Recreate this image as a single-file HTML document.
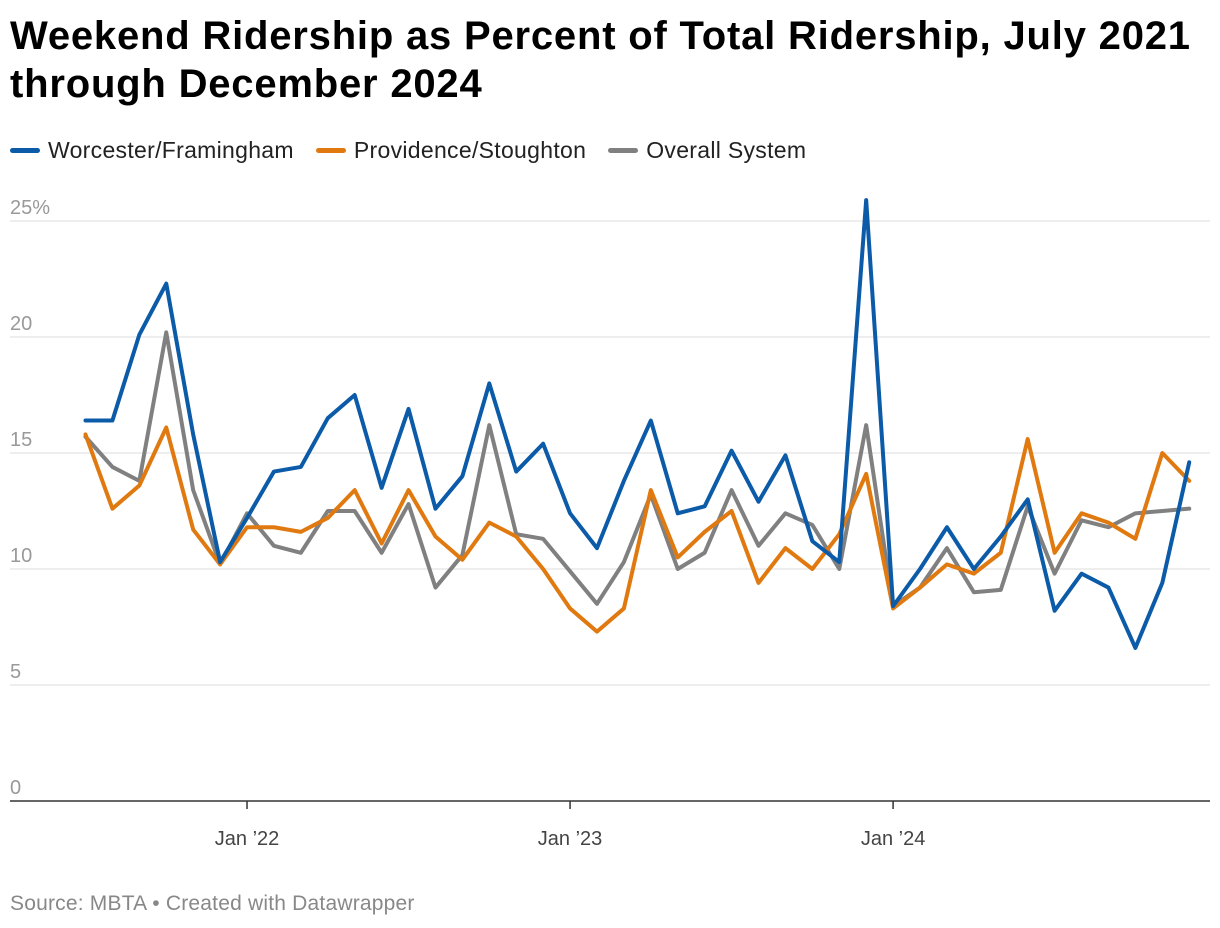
<!DOCTYPE html>
<html><head><meta charset="utf-8"><style>
body{margin:0;width:1220px;height:928px;background:#fff;font-family:"Liberation Sans",sans-serif;overflow:hidden}
h1{position:absolute;left:10px;top:12px;margin:0;font-size:40px;line-height:48px;font-weight:bold;color:#000;width:1210px;white-space:nowrap;letter-spacing:0.8px}
.legend{position:absolute;left:10px;top:137px;font-size:23px;letter-spacing:0.3px;color:#222;display:flex;gap:22px}
.legend span{display:flex;align-items:center}
.legend i{display:inline-block;width:30px;height:5px;border-radius:3px;margin-right:8px}
.src{position:absolute;left:10px;top:892px;font-size:21px;letter-spacing:0.2px;color:#888}
</style></head><body>
<h1>Weekend Ridership as Percent of Total Ridership, July 2021<br>through December 2024</h1>
<div class="legend">
<span><i style="background:#0b5ba8"></i>Worcester/Framingham</span>
<span><i style="background:#e07a10"></i>Providence/Stoughton</span>
<span><i style="background:#808080"></i>Overall System</span>
</div>
<svg id="chart" width="1220" height="928" style="position:absolute;left:0;top:0"></svg>
<div class="src">Source: MBTA • Created with Datawrapper</div>
<script>
const yTicks=[0,5,10,15,20,25];
const yTickLabels=["0","5","10","15","20","25%"];
const xTickIdx=[6,18,30];
const xTickLabels=["Jan ’22","Jan ’23","Jan ’24"];
const worcester=[16.4,16.4,20.1,22.3,15.8,10.3,12.2,14.2,14.4,16.5,17.5,13.5,16.9,12.6,14.0,18.0,14.2,15.4,12.4,10.9,13.8,16.4,12.4,12.7,15.1,12.9,14.9,11.2,10.3,25.9,8.4,10.0,11.8,10.0,11.4,13.0,8.2,9.8,9.2,6.6,9.4,14.6];
const providence=[15.8,12.6,13.6,16.1,11.7,10.2,11.8,11.8,11.6,12.2,13.4,11.1,13.4,11.4,10.4,12.0,11.4,10.0,8.3,7.3,8.3,13.4,10.5,11.6,12.5,9.4,10.9,10.0,11.5,14.1,8.3,9.2,10.2,9.8,10.7,15.6,10.7,12.4,12.0,11.3,15.0,13.8];
const overall=[15.7,14.4,13.8,20.2,13.4,10.2,12.4,11.0,10.7,12.5,12.5,10.7,12.8,9.2,10.6,16.2,11.5,11.3,9.9,8.5,10.3,13.2,10.0,10.7,13.4,11.0,12.4,11.9,10.0,16.2,8.4,9.2,10.9,9.0,9.1,12.7,9.8,12.1,11.8,12.4,12.5,12.6];
const NS="http://www.w3.org/2000/svg";
const svg=document.getElementById('chart');
const x=i=>85.5+i*26.92;
const y=v=>801-v*23.2;
function mk(t,a){const e=document.createElementNS(NS,t);for(const k in a)e.setAttribute(k,a[k]);svg.appendChild(e);return e;}
yTicks.forEach((v,k)=>{
 if(v>0){const g=mk('line',{x1:10,x2:1210,y1:y(v),y2:y(v),stroke:'#ddd','stroke-width':1});
 
 }
 const t=mk('text',{x:10,y:y(v)-7,fill:'#999','font-size':20,'font-family':'Liberation Sans, sans-serif'});
 t.textContent=yTickLabels[k];
 
 
});
const ax=mk('line',{x1:10,x2:1210,y1:801,y2:801,stroke:'#333','stroke-width':1.5});


xTickIdx.forEach((i,k)=>{
 const l=mk('line',{x1:x(i),x2:x(i),y1:801,y2:809,stroke:'#333','stroke-width':1.5});
 
 
 const t=mk('text',{x:x(i),y:845,fill:'#444','font-size':20,'text-anchor':'middle','font-family':'Liberation Sans, sans-serif'});
 t.textContent=xTickLabels[k];
 
 
});
[[overall,'#808080','line-overall'],[providence,'#e07a10','line-providence'],[worcester,'#0b5ba8','line-worcester']].forEach(([d,c,n])=>{
 const p=mk('polyline',{points:d.map((v,i)=>x(i)+','+y(v)).join(' '),fill:'none',stroke:c,'stroke-width':4,'stroke-linejoin':'round','stroke-linecap':'round'});
 
 
});
</script>
</body></html>
